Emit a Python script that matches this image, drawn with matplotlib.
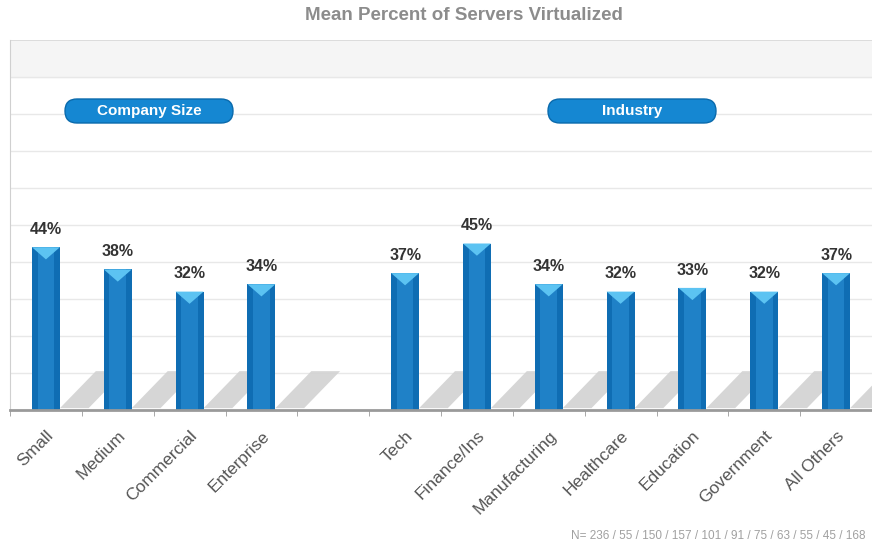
import matplotlib.pyplot as plt
from matplotlib.patches import Polygon, FancyBboxPatch

# Values
size_labels = ['Small', 'Medium', 'Commercial', 'Enterprise']
size_values = [44, 38, 32, 34]
industry_labels = ['Tech', 'Finance/Ins', 'Manufacturing', 'Healthcare',
                   'Education', 'Government', 'All Others']
industry_values = [37, 45, 34, 32, 33, 32, 37]
sample_sizes = [236, 55, 150, 157, 101, 91, 75, 63, 55, 45, 168]

labels = size_labels + industry_labels
values = size_values + industry_values
# one empty slot between the two groups
positions = list(range(len(size_labels))) + \
    [i + len(size_labels) + 1 for i in range(len(industry_labels))]

font = ['Liberation Sans', 'DejaVu Sans']
bar_w = 0.39

fig = plt.figure(figsize=(8.72, 5.44), dpi=100)
ax = fig.add_axes([10 / 872, 134 / 544, 1 - 10 / 872, 370 / 544])
ax.set_xlim(-0.5, 11.38)
ax.set_ylim(0, 100)

# light band at the top of the plot area
ax.axhspan(90, 100, color='#f5f5f5', zorder=0)
for g in range(10, 100, 10):
    ax.axhline(g, color='#e8e8e8', lw=1, zorder=0.5)

# shadows behind bars
for x in positions:
    xr = x + bar_w / 2
    ax.add_patch(Polygon([(xr, 0.5), (xr + 0.5, 10.5), (xr + 0.9, 10.5), (xr + 0.4, 0.5)],
                         closed=True, facecolor='#d2d2d2', edgecolor='none', alpha=0.9, zorder=1))

# bars
ax.bar(positions, values, width=bar_w, color='#0f6db3', zorder=2)
ax.bar(positions, values, width=bar_w * 0.6, color='#2a8fd6', alpha=0.6, zorder=2.1)

# light chevron on top of each bar
for x, v in zip(positions, values):
    ax.add_patch(Polygon([(x - bar_w / 2, v), (x + bar_w / 2, v), (x, v - 3.3)],
                         closed=True, facecolor='#5cc3f2', edgecolor='none', zorder=2.2))
    ax.text(x, v + 2.8, f'{v}%', ha='center', va='bottom', fontsize=11.5,
            fontweight='bold', color='#333333', family=font)

# axes styling
for side in ['top', 'right']:
    ax.spines[side].set_visible(False)
ax.spines['left'].set_color('#d0d0d0')
ax.spines['bottom'].set_color('#9a9a9a')
ax.spines['bottom'].set_linewidth(2)
ax.axhline(100, color='#d8d8d8', lw=1.2, zorder=0.6)
ax.set_yticks([])

ax.set_xticks(positions)
ax.set_xticklabels(labels, rotation=45, ha='right', va='top', rotation_mode='anchor',
                   fontsize=12.5, color='#555555', family=font)
ax.tick_params(axis='x', length=0, pad=13)
# small tick marks between slots
ax.set_xticks([p + 0.5 for p in range(-1, 12)], minor=True)
ax.tick_params(axis='x', which='minor', length=4, color='#9a9a9a')

# overlay in pixel units for title, pills and note
ov = fig.add_axes([0, 0, 1, 1], facecolor='none')
ov.set_xlim(0, 872)
ov.set_ylim(544, 0)
ov.axis('off')

ov.text(464, 16, 'Mean Percent of Servers Virtualized', ha='center', va='center',
        fontsize=13.5, fontweight='bold', color='#8c8c8c', family=font)

# group pills
for cx, name in [(149, 'Company Size'), (632, 'Industry')]:
    w, h = 168, 24
    ov.add_patch(FancyBboxPatch((cx - w / 2, 111 - h / 2), w, h,
                                boxstyle='round,pad=0,rounding_size=12',
                                facecolor='#1587d2', edgecolor='#0a6aac', lw=1))
    ov.text(cx, 111, name, ha='center', va='center', fontsize=11,
            fontweight='bold', color='white', family=font)

ov.text(865, 536, 'N= ' + ' / '.join(str(n) for n in sample_sizes),
        ha='right', va='center', fontsize=8.5, color='#a0a0a0', family=font)

fig.savefig('out.png', dpi=100)
